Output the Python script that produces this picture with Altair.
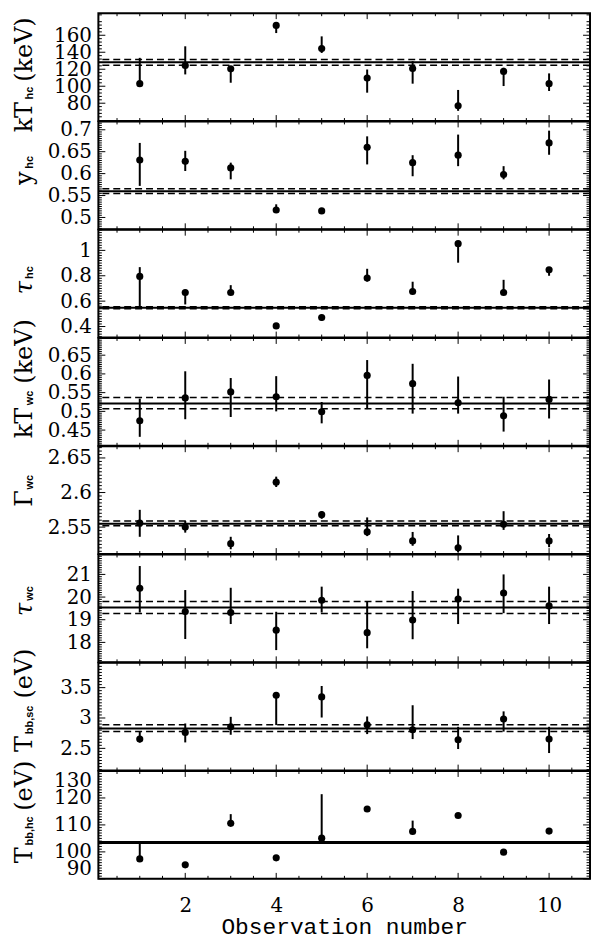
import altair as alt
import pandas as pd
import numpy as np

# ---------------- data ----------------
obs = [1, 2, 3, 4, 5, 6, 7, 8, 9, 10]

kThc_val = [103.0, 124.4, 120.5, 171.6, 144.3, 109.6, 120.9, 76.9, 117.4, 103.0]
kThc_hi = [133.4, 147.0, 123.6, 175.5, 158.7, 119.7, 129.5, 95.6, 121.7, 115.1]
kThc_lo = [103.0, 113.9, 104.1, 162.6, 139.2, 92.4, 103.0, 71.0, 100.2, 94.4]
kThc_lines = [128.3, 131.5, 124.8]

yhc_val = [0.631, 0.628, 0.613, 0.517, 0.515, 0.660, 0.625, 0.642, 0.598, 0.670]
yhc_hi = [0.670, 0.652, 0.625, 0.530, 0.520, 0.685, 0.642, 0.689, 0.617, 0.698]
yhc_lo = [0.572, 0.606, 0.587, 0.511, 0.510, 0.621, 0.594, 0.617, 0.587, 0.643]
yhc_lines = [0.560, 0.5655, 0.5548]

tauhc_val = [0.795, 0.668, 0.668, 0.405, 0.471, 0.782, 0.676, 1.053, 0.668, 0.847]
tauhc_hi = [0.868, 0.690, 0.726, 0.415, 0.480, 0.855, 0.753, 1.070, 0.768, 0.868]
tauhc_lo = [0.553, 0.574, 0.660, 0.400, 0.445, 0.755, 0.665, 0.903, 0.660, 0.800]
tauhc_lines = [0.548, 0.556, 0.540]

kTwc_val = [0.475, 0.536, 0.552, 0.539, 0.499, 0.596, 0.574, 0.523, 0.488, 0.532]
kTwc_hi = [0.534, 0.607, 0.589, 0.594, 0.525, 0.637, 0.627, 0.593, 0.539, 0.585]
kTwc_lo = [0.432, 0.479, 0.485, 0.500, 0.468, 0.506, 0.494, 0.494, 0.446, 0.481]
kTwc_lines = [0.521, 0.537, 0.507]

Gwc_val = [2.556, 2.550, 2.526, 2.615, 2.568, 2.543, 2.530, 2.520, 2.554, 2.530]
Gwc_hi = [2.575, 2.559, 2.536, 2.623, 2.573, 2.564, 2.543, 2.538, 2.573, 2.540]
Gwc_lo = [2.536, 2.542, 2.518, 2.608, 2.562, 2.537, 2.523, 2.514, 2.546, 2.521]
Gwc_lines = [2.555, 2.559, 2.552]

tauwc_val = [20.39, 19.36, 19.32, 18.54, 19.86, 18.43, 18.99, 19.91, 20.18, 19.61]
tauwc_hi = [21.37, 20.31, 20.41, 19.35, 20.46, 19.82, 20.27, 20.37, 21.00, 20.46]
tauwc_lo = [19.32, 18.15, 18.81, 17.66, 19.32, 17.74, 18.14, 18.81, 19.29, 18.81]
tauwc_lines = [19.54, 19.80, 19.27]

Tsc_val = [2.653, 2.762, 2.855, 3.374, 3.347, 2.888, 2.806, 2.642, 2.984, 2.653]
Tsc_hi = [2.779, 2.910, 3.019, 3.400, 3.527, 3.025, 3.210, 2.855, 3.109, 2.855]
Tsc_lo = [2.598, 2.598, 2.724, 2.883, 3.008, 2.735, 2.653, 2.489, 2.776, 2.423]
Tsc_lines = [2.828, 2.888, 2.779]

Thc_val = [97.4, 95.2, 110.6, 97.8, 105.1, 115.9, 107.6, 113.5, 99.9, 107.7]
Thc_hi = [103.6, 95.2, 114.0, 97.8, 121.4, 115.9, 111.6, 113.5, 99.9, 107.7]
Thc_lo = [97.4, 95.2, 110.6, 97.8, 105.1, 115.9, 107.6, 113.5, 99.9, 107.7]
Thc_lines = [103.5]

# y tick labels per panel
kThc_ticks = [80, 100, 120, 140, 160]
yhc_ticks = [0.5, 0.55, 0.6, 0.65, 0.7]
tauhc_ticks = [0.4, 0.6, 0.8, 1.0]
kTwc_ticks = [0.45, 0.5, 0.55, 0.6, 0.65]
Gwc_ticks = [2.55, 2.6, 2.65]
tauwc_ticks = [18, 19, 20, 21]
Tsc_ticks = [2.5, 3.0, 3.5]
Thc_ticks = [90, 100, 110, 120, 130]

x_ticks = [2, 4, 6, 8, 10]
x_minor = [0.5, 1, 1.5, 2.5, 3, 3.5, 4.5, 5, 5.5, 6.5, 7, 7.5, 8.5, 9, 9.5, 10.5]

# ---------------- layout / style ----------------
W = 495
H = 108.6
XDOM = [0.09, 10.9]
SERIF = "DejaVu Serif"
SUBF = "Liberation Sans"
MAIN_SIZE = 24
SUB_SIZE = 11

EM_MAIN = {"k": .63, "T": .67, "y": .60, "τ": .56, "Γ": .64}
EM_SUB = {"h": .611, "c": .556, "w": .778, "b": .611, ",": .278, "s": .556}


def width_of(s, sub):
    tab, size = (EM_SUB, SUB_SIZE) if sub else (EM_MAIN, MAIN_SIZE)
    return sum(tab.get(ch, .6) for ch in s) * size


def minor_vals(dom, step, major_step):
    k0 = int(np.ceil(dom[0] / step - 1e-9))
    k1 = int(np.floor(dom[1] / step + 1e-9))
    out = []
    ratio = int(round(major_step / step))
    for k in range(k0, k1 + 1):
        if k % ratio != 0:
            out.append(round(k * step, 6))
    return out


one = pd.DataFrame({"a": [0]})


def rot_text(txt, x, y, font, size, weight="normal", style="normal"):
    return alt.Chart(one).mark_text(text=txt, angle=270, align="left",
                                    baseline="alphabetic", font=font, fontSize=size,
                                    fontWeight=weight, fontStyle=style,
                                    color="black").encode(x=alt.value(x), y=alt.value(y))


def panel(vals, his, los, ydom, yticks, minor_step, major_step, lines, title,
          bottom=False, flush=False, solid_width=2.0):
    main, main_style, sub, suffix, start, suffix_start = title
    df = pd.DataFrame({"obs": obs, "val": vals, "lo": los, "hi": his})
    xs = alt.Scale(domain=XDOM, nice=False, zero=False)
    ys = alt.Scale(domain=ydom, nice=False, zero=False)
    if bottom:
        xax = alt.Axis(values=x_ticks, ticks=False, tickSize=0, domain=False, grid=False,
                       labelFont=SERIF, labelFontSize=20, labelColor="black",
                       labelPadding=17, title="Observation number",
                       titleFont="Liberation Mono", titleFontSize=23,
                       titleFontWeight="normal", titleColor="black", titlePadding=0)
    else:
        xax = None
    yax = alt.Axis(values=yticks, format="~r", ticks=False, tickSize=0, domain=False,
                   grid=False, labelFont=SERIF, labelFontSize=20, labelColor="black",
                   labelPadding=7, labelFlush=flush, labelOverlap=False, title=None)

    X = lambda f: alt.X(f, scale=xs, axis=xax, title="Observation number" if bottom else None)
    Y = lambda f: alt.Y(f, scale=ys, axis=yax, title=None)

    layers = []
    layers.append(alt.Chart(df).mark_rule(color="black", strokeWidth=2).encode(
        x=X("obs:Q"), y=Y("lo:Q"), y2="hi:Q"))
    layers.append(alt.Chart(df).mark_circle(color="black", size=52, opacity=1).encode(
        x=X("obs:Q"), y=Y("val:Q")))

    ldf_s = pd.DataFrame({"v": lines[:1]})
    layers.append(alt.Chart(ldf_s).mark_rule(color="black", strokeWidth=solid_width).encode(
        y=Y("v:Q")))
    if len(lines) > 1:
        ldf_d = pd.DataFrame({"v": lines[1:]})
        layers.append(alt.Chart(ldf_d).mark_rule(color="black", strokeWidth=1.5,
                                                 strokeDash=[7, 4]).encode(y=Y("v:Q")))

    # inner ticks (y)
    ymaj = pd.DataFrame({"t": yticks})
    ymin = pd.DataFrame({"t": minor_vals(ydom, minor_step, major_step)})
    for d, ln in ((ymaj, 7), (ymin, 3.5)):
        layers.append(alt.Chart(d).mark_rule(color="black", strokeWidth=1).encode(
            y=Y("t:Q"), x=alt.value(0), x2=alt.value(ln)))
        layers.append(alt.Chart(d).mark_rule(color="black", strokeWidth=1).encode(
            y=Y("t:Q"), x=alt.value(W - ln), x2=alt.value(W)))
    # inner ticks (x)
    xmaj = pd.DataFrame({"t": x_ticks})
    xmin = pd.DataFrame({"t": x_minor})
    for d, ln in ((xmaj, 6), (xmin, 3)):
        layers.append(alt.Chart(d).mark_rule(color="black", strokeWidth=1).encode(
            x=X("t:Q"), y=alt.value(0), y2=alt.value(ln)))
        layers.append(alt.Chart(d).mark_rule(color="black", strokeWidth=1).encode(
            x=X("t:Q"), y=alt.value(H - ln), y2=alt.value(H)))

    # frame of the panel
    layers.append(alt.Chart(one).mark_rect(fill=None, fillOpacity=0, stroke="black",
                                           strokeWidth=2).encode(
        x=alt.value(0), x2=alt.value(W), y=alt.value(0), y2=alt.value(H)))

    # rotated y title: main symbol, small bold subscript, unit
    layers.append(rot_text(main, -67, start, SERIF, MAIN_SIZE, style=main_style))
    sub_start = start - width_of(main, False) - 2
    layers.append(rot_text(sub, -65.5, sub_start, SUBF, SUB_SIZE, weight="bold"))
    if suffix:
        layers.append(rot_text(suffix, -67, suffix_start, SERIF, MAIN_SIZE))

    # white left anchor so the plot lands at the reference position
    layers.append(alt.Chart(one).mark_rule(color="white", strokeWidth=1).encode(
        x=alt.value(-90), x2=alt.value(-90), y=alt.value(H / 2), y2=alt.value(H / 2 + 1)))

    return alt.layer(*layers).properties(width=W, height=H)


N = "normal"
panels = [
    panel(kThc_val, kThc_hi, kThc_lo, [59, 186], kThc_ticks, 4, 20, kThc_lines,
          ("kT", N, "hc", "(keV)", 120, 69)),
    panel(yhc_val, yhc_hi, yhc_lo, [0.473, 0.719], yhc_ticks, 0.005, 0.05, yhc_lines,
          ("y", N, "hc", "", 64, 0)),
    panel(tauhc_val, tauhc_hi, tauhc_lo, [0.313, 1.163], tauhc_ticks, 0.02, 0.2, tauhc_lines,
          ("τ", "italic", "hc", "", 65, 0)),
    panel(kTwc_val, kTwc_hi, kTwc_lo, [0.408, 0.696], kTwc_ticks, 0.005, 0.05, kTwc_lines,
          ("kT", N, "wc", "(keV)", 101, 46)),
    panel(Gwc_val, Gwc_hi, Gwc_lo, [2.511, 2.667], Gwc_ticks, 0.005, 0.05, Gwc_lines,
          ("Γ", N, "wc", "", 61, 0)),
    panel(tauwc_val, tauwc_hi, tauwc_lo, [17.12, 21.88], tauwc_ticks, 0.1, 1, tauwc_lines,
          ("τ", "italic", "wc", "", 62, 0)),
    panel(Tsc_val, Tsc_hi, Tsc_lo, [2.134, 3.91], Tsc_ticks, 0.05, 0.5, Tsc_lines,
          ("T", N, "bb,sc", "(eV)", 90, 36)),
    panel(Thc_val, Thc_hi, Thc_lo, [90, 130], Thc_ticks, 1, 10, Thc_lines,
          ("T", N, "bb,hc", "(eV)", 93, 40),
          bottom=True, flush=True, solid_width=3),
]

chart = alt.vconcat(*panels, spacing=0, bounds="flush").resolve_scale(
    y="independent").properties(
    padding={"left": 0, "top": 0, "right": 0, "bottom": 4}
).configure_view(stroke=None).configure(background="white")

chart.save("out.html", embed_options={"renderer": "svg", "actions": False})
